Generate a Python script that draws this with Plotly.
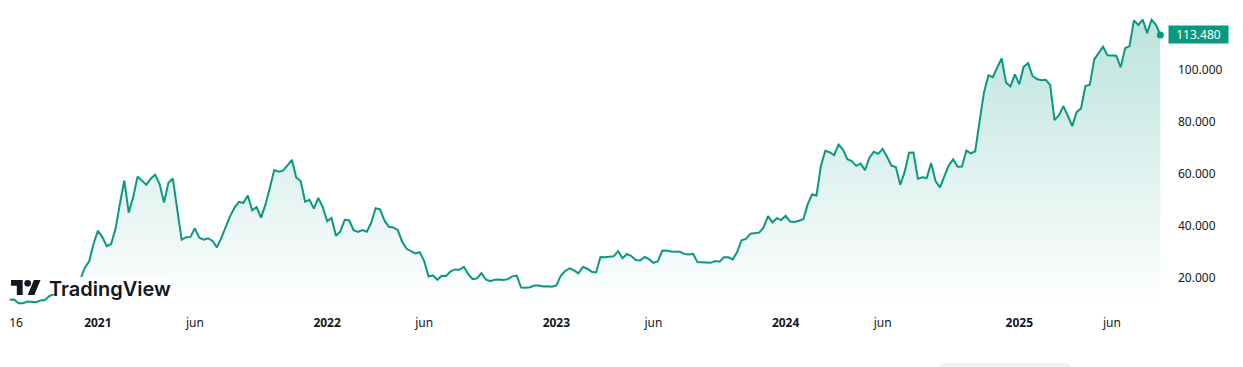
import pandas as pd
import plotly.graph_objects as go

# Weekly closes (USD), one value per weekly bar starting 2020-08-17
closes_2020 = [11650, 11710, 10260, 10330, 10920, 10780, 10670, 11380, 11500, 13030,
               13760, 15480, 15960, 18400, 18180, 19150, 19270, 23850, 26280, 33000]
closes_2021 = [38150, 35830, 32260, 33090, 38890, 48580, 57490, 45140, 51010, 59000,
               57350, 55820, 58200, 59770, 56150, 49000, 56580, 58240, 46430, 34700,
               35680, 35800, 39100, 35500, 34700, 35290, 34240, 31780, 35400, 39850,
               43800, 47070, 49300, 48830, 51750, 46030, 47250, 43210, 48200, 54660,
               61530, 60860, 61300, 63270, 65470, 58620, 57270, 49400, 50100, 46680,
               50800, 47300]
closes_2022 = [41860, 43100, 36280, 37920, 42410, 42200, 38360, 37700, 38420, 37780,
               41260, 46830, 46410, 42150, 39700, 39450, 38470, 34060, 31300, 30290,
               29450, 29900, 26570, 20550, 21030, 19300, 20850, 20790, 22580, 23300,
               23180, 24300, 21520, 19550, 19830, 21830, 19420, 18810, 19310, 19420,
               19260, 19570, 20630, 20920, 16330, 16290, 16460, 17110, 17090, 16740,
               16840, 16610]
closes_2023 = [17130, 20880, 22710, 23740, 22930, 21780, 24280, 23560, 22430, 22140,
               28040, 27990, 28190, 28330, 30300, 27590, 29230, 28430, 26920, 26750,
               28070, 27230, 25840, 26340, 30470, 30590, 30170, 30250, 30080, 29280,
               29060, 29280, 26100, 26010, 25870, 25830, 26530, 26260, 27980, 27940,
               27160, 29990, 34530, 35010, 37060, 37360, 37450, 39460, 43790, 41370,
               43010, 42280]
closes_2024 = [43930, 41730, 41580, 42030, 42580, 48300, 52140, 51730, 63110, 68960,
               68390, 67210, 71280, 69360, 65660, 64940, 63120, 64010, 61480, 66270,
               68510, 67750, 69650, 66640, 63210, 62680, 55850, 60800, 68160, 68250,
               58160, 58710, 58430, 64220, 57300, 54840, 59180, 63350, 65630, 62820,
               62850, 69000, 67940, 68740, 80370, 91500, 97900, 97200, 101000, 104400,
               95100, 93700, 98300]
closes_2025 = [94500, 101300, 102600, 97700, 96500, 96100, 96200, 94300, 80700, 82600,
               86100, 82400, 78400, 83800, 85200, 93800, 94300, 104100, 106500, 109000,
               105700, 105700, 105500, 101000, 108400, 109200, 119100, 117300, 119400, 114200,
               119300, 117400, 113480]

values = closes_2020 + closes_2021 + closes_2022 + closes_2023 + closes_2024 + closes_2025
dates = pd.date_range("2020-08-17", periods=len(values), freq="7D")

tick_dates = ["2020-08-27", "2021-01-04", "2021-06-07", "2022-01-03", "2022-06-06",
              "2023-01-02", "2023-06-05", "2024-01-01", "2024-06-03", "2025-01-06", "2025-06-02"]
tick_text = ["16", "<b>2021</b>", "jun", "<b>2022</b>", "jun", "<b>2023</b>", "jun",
             "<b>2024</b>", "jun", "<b>2025</b>", "jun"]
y_ticks = [20000, 40000, 60000, 80000, 100000]

GREEN = "#089981"
TEXT = "#131722"
OFF = 8                      # page body margin of the html page
W, H = 1243 - OFF, 367 - OFF
ML, MR, MT, MB = 0, 73, 0, 59
PW, PH = W - ML - MR, H - MT - MB


def P(x, y):
    """page pixel -> paper coordinates (for decorations only)"""
    return (x - OFF - ML) / PW, 1 - (y - OFF - MT) / PH


def path(points):
    s = ""
    for i, (x, y) in enumerate(points):
        fx, fy = P(x, y)
        s += ("M" if i == 0 else "L") + f"{fx:.5f},{fy:.5f}"
    return s + "Z"


fig = go.Figure()
fig.add_trace(go.Scatter(
    x=dates, y=values, mode="lines",
    line=dict(color=GREEN, width=2),
    fill="tozeroy",
    fillgradient=dict(type="vertical", start=8460, stop=max(values),
                      colorscale=[[0, "rgba(8,153,129,0)"], [1, "rgba(8,153,129,0.27)"]]),
    hoverinfo="skip", showlegend=False,
))
fig.add_trace(go.Scatter(
    x=[dates[-1]], y=[values[-1]], mode="markers",
    marker=dict(color=GREEN, size=7), hoverinfo="skip", showlegend=False,
))

# TradingView logo mark (viewBox 36x28 scaled)
s = 0.833
def L(vx, vy):
    return (11 + s * vx, 280 + s * (vy - 4))

shapes = []
shapes.append(dict(type="rect", xref="paper", yref="paper", layer="above",
                   x0=P(47, 0)[0], x1=P(170, 0)[0], y0=P(0, 294)[1], y1=P(0, 277)[1],
                   fillcolor="white", line=dict(width=0)))
shapes.append(dict(type="path", xref="paper", yref="paper", layer="above",
                   path=path([L(14, 22), L(7, 22), L(7, 11), L(0, 11), L(0, 4), L(14, 4)]),
                   fillcolor="#131722", line=dict(width=0)))
shapes.append(dict(type="path", xref="paper", yref="paper", layer="above",
                   path=path([L(28, 22), L(20, 22), L(27.5, 4), L(35.5, 4)]),
                   fillcolor="#131722", line=dict(width=0)))
cx, cy = L(20, 8)
r = 4 * s
shapes.append(dict(type="circle", xref="paper", yref="paper", layer="above",
                   x0=P(cx - r, 0)[0], x1=P(cx + r, 0)[0],
                   y0=P(0, cy + r)[1], y1=P(0, cy - r)[1],
                   fillcolor="#131722", line=dict(width=0)))
# faint rounded button at the bottom edge
bx0, bx1, by0, by1, rr = 938, 1072, 363, 385, 8
fx0, fy0 = P(bx0, by1)
fx1, fy1 = P(bx1, by0)
rx, ry = rr / PW, rr / PH
shapes.append(dict(type="path", xref="paper", yref="paper", layer="above",
                   path=(f"M{fx0:.5f},{fy0:.5f} L{fx0:.5f},{fy1 - ry:.5f} "
                         f"Q{fx0:.5f},{fy1:.5f} {fx0 + rx:.5f},{fy1:.5f} "
                         f"L{fx1 - rx:.5f},{fy1:.5f} Q{fx1:.5f},{fy1:.5f} {fx1:.5f},{fy1 - ry:.5f} "
                         f"L{fx1:.5f},{fy0:.5f} Z"),
                   fillcolor="#f0f1f2", line=dict(width=0)))

last_label = f"{values[-1]:,}".replace(",", ".")
annotations = [
    dict(x=P(47, 0)[0], y=P(0, 289)[1], xref="paper", yref="paper",
         xanchor="left", yanchor="middle", showarrow=False, text="TradingView",
         font=dict(family="Inter", size=20, color="#131722", weight=600)),
    dict(x=1, xref="paper", xanchor="left", xshift=-2, y=values[-1], yref="y",
         yanchor="middle", showarrow=False, text=last_label, width=59, height=17,
         align="center", bgcolor=GREEN, borderpad=0,
         font=dict(family="Noto Sans", size=12, color="white")),
]

fig.update_layout(
    width=W, height=H,
    margin=dict(l=ML, r=MR, t=MT, b=MB, pad=0),
    paper_bgcolor="white", plot_bgcolor="white",
    separators=",.",
    font=dict(family="Noto Sans", size=12, color=TEXT),
    shapes=shapes, annotations=annotations,
    xaxis=dict(type="date", range=["2020-08-14 07:00", "2025-09-02 07:00"],
               tickvals=tick_dates, ticktext=tick_text, showgrid=False,
               zeroline=False, showline=False, ticks="", ticklabelstandoff=6,
               tickfont=dict(size=12, color=TEXT)),
    yaxis=dict(side="right", range=[8460, 123840], tickvals=y_ticks, tickformat=",d",
               showgrid=False, zeroline=False, showline=False, ticks="",
               ticklabelstandoff=7, tickfont=dict(size=12, color=TEXT)),
)

fig.write_html("out.html")
